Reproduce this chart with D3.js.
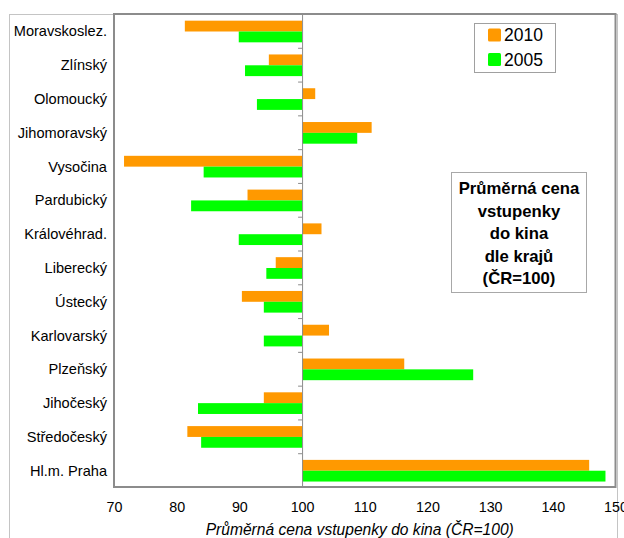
<!DOCTYPE html>
<html>
<head>
<meta charset="utf-8">
<script src="https://cdn.jsdelivr.net/npm/d3@7"></script>
<style>
  body { margin: 0; background: #fff; }
  text { font-family: "Liberation Sans", Arial, sans-serif; fill: #000; }
</style>
</head>
<body>
<div id="chart"></div>
<script>
// Regions, top to bottom as in the picture
var regions = ["Moravskoslez.", "Zlínský", "Olomoucký", "Jihomoravský", "Vysočina",
    "Pardubický", "Královéhrad.", "Liberecký", "Ústecký", "Karlovarský",
    "Plzeňský", "Jihočeský", "Středočeský", "Hl.m. Praha"];

// Average cinema ticket price index (CR = 100)
var values2010 = [81.3, 94.7, 102.1, 111.1, 71.6, 91.3, 103.1, 95.8, 90.4, 104.3, 116.3, 93.9, 81.7, 145.8];
var values2005 = [89.9, 90.9, 92.8, 108.8, 84.3, 82.3, 89.9, 94.3, 93.9, 93.9, 127.3, 83.4, 83.9, 148.4];

var seriesNames = ["2010", "2005"];
var xTicks = [70, 80, 90, 100, 110, 120, 130, 140, 150];
var boxLines = ["Průměrná cena", "vstupenky", "do kina", "dle krajů", "(ČR=100)"];
var axisTitle = "Průměrná cena vstupenky do kina (ČR=100)";

var svgWidth = 624;
var svgHeight = 538;

// plot area
var plot = { left: 114, top: 14, right: 615.5, bottom: 487 };

var colors = { "2010": "#ff9900", "2005": "#00ff00" };

var svg = d3.select("#chart")
    .append("svg")
    .attr("width", svgWidth)
    .attr("height", svgHeight);

// outer chart frame (runs off the bottom of the picture)
svg.append("rect")
    .attr("x", 9.5)
    .attr("y", 14.5)
    .attr("width", 608)
    .attr("height", 560)
    .attr("fill", "#fff")
    .attr("stroke", "#c4c4c4")
    .attr("stroke-width", 1);

// scales
var xScale = d3.scaleLinear()
    .domain([70, 150])
    .range([plot.left, plot.right]);

var yScale = d3.scaleBand()
    .domain(regions)
    .range([plot.top, plot.bottom])
    .padding(0);

var subScale = d3.scaleBand()
    .domain(seriesNames)
    .range([0, yScale.bandwidth()])
    .paddingInner(0)
    .paddingOuter(0.56)
    .align(0.55);

// plot background
svg.append("rect")
    .attr("x", plot.left)
    .attr("y", plot.top)
    .attr("width", plot.right - plot.left)
    .attr("height", plot.bottom - plot.top)
    .attr("fill", "#fff");

// bars
var rows = regions.map(function(r, i) {
    return { region: r, values: { "2010": values2010[i], "2005": values2005[i] } };
});

var rowGroups = svg.selectAll(".row")
    .data(rows)
    .enter()
    .append("g")
    .attr("class", "row")
    .attr("transform", d => `translate(0, ${yScale(d.region)})`);

rowGroups.selectAll("rect")
    .data(d => seriesNames.map(s => ({ series: s, value: d.values[s] })))
    .enter()
    .append("rect")
    .attr("x", d => Math.min(xScale(100), xScale(d.value)))
    .attr("y", d => subScale(d.series))
    .attr("width", d => Math.abs(xScale(d.value) - xScale(100)))
    .attr("height", subScale.bandwidth())
    .attr("fill", d => colors[d.series]);

// category axis sitting on the 100 line, ticks between regions
var tickScale = d3.scaleLinear()
    .domain([0, regions.length])
    .range([plot.top, plot.bottom]);

var midAxis = svg.append("g")
    .attr("transform", `translate(${xScale(100)}, 0)`)
    .call(d3.axisLeft(tickScale)
        .tickValues(d3.range(regions.length + 1))
        .tickFormat("")
        .tickSize(4)
        .tickSizeOuter(0));
midAxis.selectAll("line, path").attr("stroke", "#8c8c8c");

// plot border
svg.append("rect")
    .attr("x", plot.left)
    .attr("y", plot.top)
    .attr("width", plot.right - plot.left)
    .attr("height", plot.bottom - plot.top)
    .attr("fill", "none")
    .attr("stroke", "#8c8c8c")
    .attr("stroke-width", 2);

// region labels
var leftAxis = svg.append("g")
    .attr("transform", `translate(${plot.left}, 0)`)
    .call(d3.axisLeft(yScale).tickSize(0).tickPadding(7));
leftAxis.select(".domain").remove();
leftAxis.selectAll("text")
    .style("font-size", "14.6px")
    .style("font-family", "'Liberation Sans', Arial, sans-serif")
    .attr("dy", "0.38em");

// value axis labels
var bottomAxis = svg.append("g")
    .attr("transform", `translate(0, ${plot.bottom})`)
    .call(d3.axisBottom(xScale).tickValues(xTicks).tickSize(0).tickPadding(15));
bottomAxis.select(".domain").remove();
bottomAxis.selectAll("text")
    .style("font-size", "14.3px")
    .style("font-family", "'Liberation Sans', Arial, sans-serif");

svg.append("text")
    .attr("x", (plot.left + plot.right) / 2 - 5)
    .attr("y", 535)
    .attr("text-anchor", "middle")
    .style("font-size", "15.6px")
    .style("font-style", "italic")
    .text(axisTitle);

// legend
var legend = svg.append("g");
legend.append("rect")
    .attr("x", 474.5)
    .attr("y", 23.5)
    .attr("width", 81)
    .attr("height", 49)
    .attr("fill", "#fff")
    .attr("stroke", "#a0a0a0");

var legendItems = legend.selectAll(".item")
    .data(seriesNames)
    .enter()
    .append("g")
    .attr("class", "item")
    .attr("transform", (d, i) => `translate(488, ${28.5 + i * 24.5})`);

legendItems.append("rect")
    .attr("width", 13)
    .attr("height", 13)
    .attr("rx", 1.5)
    .attr("fill", d => colors[d]);

legendItems.append("text")
    .attr("x", 16)
    .attr("y", 12.8)
    .style("font-size", "17.5px")
    .text(d => d);

// text box
var box = svg.append("g");
box.append("rect")
    .attr("x", 451.5)
    .attr("y", 172.5)
    .attr("width", 135)
    .attr("height", 120)
    .attr("fill", "#fff")
    .attr("stroke", "#a8a8a8");

box.selectAll("text")
    .data(boxLines)
    .enter()
    .append("text")
    .attr("x", 519)
    .attr("y", (d, i) => 194 + i * 22.5)
    .attr("text-anchor", "middle")
    .style("font-size", "16.7px")
    .style("font-weight", "bold")
    .text(d => d);
</script>
</body>
</html>
